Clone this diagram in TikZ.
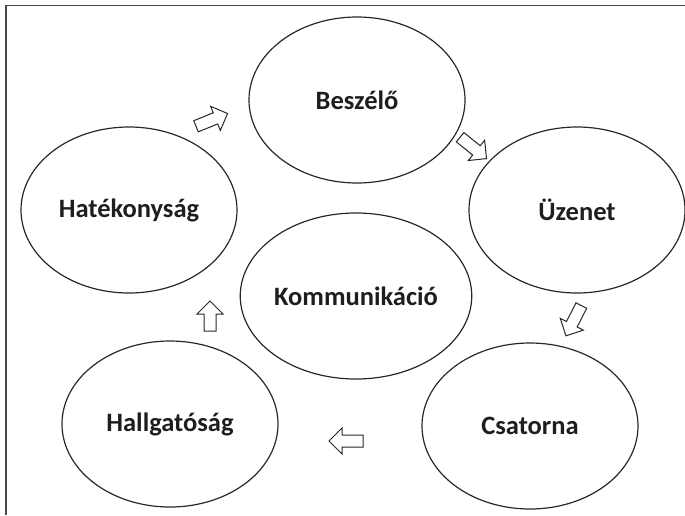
\documentclass[tikz,border=0pt]{standalone}
\usepackage{fontspec}
\setmainfont{Carlito}
\usetikzlibrary{shapes.geometric,shapes.arrows}
\definecolor{RingLine}{RGB}{40,40,40}
\definecolor{RingText}{RGB}{30,30,30}

\begin{document}
\begin{tikzpicture}[x=1pt,y=-1pt]
    \tikzset{ring/.style={ellipse,draw=RingLine,line width=1.2pt,minimum width=216pt,minimum height=166pt,inner sep=0pt,font=\fontsize{26.5}{30}\selectfont\bfseries,text=RingText},
      flow/.style={single arrow,draw=RingLine,line width=1pt,fill=white,minimum height=34pt,inner sep=5.5pt,single arrow head extend=7pt}}
    \useasboundingbox (0,0) rectangle (685,515);
    \draw[line width=1.6pt,RingLine!85] (6,515) -- (6,5.5) -- (685,5.5);
    \node[ring] (besz) at (357,100) {Beszélő};
    \node[ring] (uzen) at (577,210) {Üzenet};
    \node[ring] (hate) at (129,210) {Hatékonyság};
    \node[ring] (komm) at (356,296) {Kommunikáció};
    \node[ring] (hall) at (170,424) {Hallgatóság};
    \node[ring] (csat) at (530,426) {Csatorna};
    % block arrows round the circle
    \node[flow,rotate=22] (f1) at (209,121) {};
    \node[flow,rotate=-39] (f2) at (471,146) {};
    \node[flow,rotate=243] (f3) at (575,318) {};
    \node[flow,rotate=180] (f4) at (349,441) {};
    \node[flow,rotate=90,minimum height=30pt] (f5) at (210,319) {};
  \end{tikzpicture}
\end{document}
